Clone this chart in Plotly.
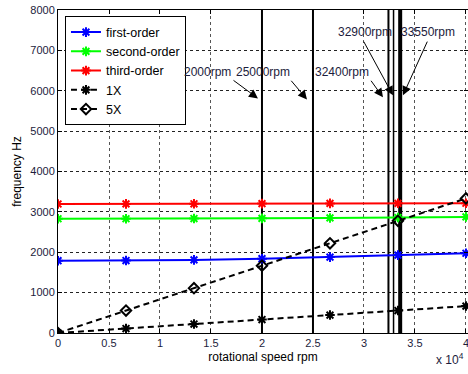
import plotly.graph_objects as go

# ---- data ----
rpm = [0, 6667, 13333, 20000, 26667, 33333, 40000]
first_order = [1790, 1795, 1810, 1840, 1880, 1930, 1975]
second_order = [2830, 2830, 2835, 2840, 2850, 2860, 2875]
third_order = [3195, 3198, 3200, 3205, 3210, 3212, 3215]
one_x = [0, 111, 222, 333, 444, 556, 667]
five_x = [0, 556, 1111, 1667, 2222, 2778, 3333]
critical_rpm = [20000, 25000, 32400, 32900, 33550]
critical_labels = ["2000rpm", "25000rpm", "32400rpm", "32900rpm", "33550rpm"]
x_tickvals = [0, 5000, 10000, 15000, 20000, 25000, 30000, 35000, 40000]
x_ticktext = ["0", "0.5", "1", "1.5", "2", "2.5", "3", "3.5", "4"]
y_tickvals = [0, 1000, 2000, 3000, 4000, 5000, 6000, 7000, 8000]

FONT = "Liberation Sans, Arial, sans-serif"
TXT = "#1c1c3c"

fig = go.Figure()

# vertical critical speed lines
line_widths = [2, 2, 2, 1.5, 4]
for r, w in zip(critical_rpm, line_widths):
    fig.add_trace(go.Scatter(x=[r, r], y=[0, 8000], mode="lines",
                             line=dict(color="black", width=w),
                             showlegend=False, hoverinfo="skip"))

series = [
    ("first-order", first_order, "#0000ff", "solid", "asterisk-open", 8),
    ("second-order", second_order, "#00ff00", "solid", "asterisk-open", 8),
    ("third-order", third_order, "#ff0000", "solid", "asterisk-open", 8),
    ("1X", one_x, "black", "dash", "asterisk-open", 8),
    ("5X", five_x, "black", "dash", "diamond-open", 8),
]
for name, vals, col, dash, sym, sz in series:
    fig.add_trace(go.Scatter(
        x=rpm, y=vals, name=name, mode="lines+markers",
        line=dict(color=col, width=2, dash="6px,4px" if dash == "dash" else "solid"),
        marker=dict(symbol=sym, size=sz, color=col,
                    line=dict(color=col, width=2)),
    ))

# annotation layout (pixel-estimated positions in data units)
text_pos = [(14700, 6460), (20100, 6460), (27850, 6460), (30100, 7450), (36280, 7450)]
arrow_tail = [(17060, 6284), (22745, 6284), (30590, 6284), (29900, 7254), (36275, 7254)]
arrow_tip = [(19608, 5811), (24412, 5786), (31863, 5836), (32843, 5886), (33824, 5886)]

for lab, (tx, ty) in zip(critical_labels, text_pos):
    fig.add_annotation(x=tx, y=ty, text=lab, showarrow=False,
                       font=dict(family=FONT, size=12, color=TXT))
for (ax, ay), (hx, hy) in zip(arrow_tail, arrow_tip):
    fig.add_annotation(x=hx, y=hy, ax=ax, ay=ay, axref="x", ayref="y",
                       text="", showarrow=True, arrowhead=2, arrowsize=1.8,
                       arrowwidth=1, arrowcolor="black")

fig.add_annotation(x=40000, y=-0.082, xref="x", yref="paper",
                   text="x 10<sup>4</sup>", showarrow=False,
                   xanchor="right", yanchor="middle",
                   font=dict(family=FONT, size=12, color=TXT))

fig.update_layout(
    width=468, height=374,
    margin=dict(l=58, r=0, t=10, b=41),
    paper_bgcolor="white", plot_bgcolor="white",
    font=dict(family=FONT, size=11, color=TXT),
    legend=dict(x=0.017, y=0.98, xanchor="left", yanchor="top",
                bgcolor="white", bordercolor="black", borderwidth=1,
                font=dict(family=FONT, size=12.5, color="black"),
                tracegroupgap=0, itemwidth=30),
    xaxis=dict(range=[0, 40200], tickvals=x_tickvals, ticktext=x_ticktext,
               automargin=False, ticklabeloverflow="allow",
               showgrid=True, gridcolor="#555555", griddash="3px,3px", gridwidth=1,
               showline=True, linecolor="black", linewidth=1, mirror="ticks",
               ticks="inside", ticklen=4, tickcolor="black",
               zeroline=False,
               title=dict(text="rotational speed rpm", standoff=4,
                          font=dict(family=FONT, size=12, color="black"))),
    yaxis=dict(range=[0, 8000], tickvals=y_tickvals,
               automargin=False, ticklabeloverflow="allow",
               showgrid=True, gridcolor="#222222", griddash="3px,3px", gridwidth=1,
               showline=True, linecolor="black", linewidth=1, mirror="ticks",
               ticks="inside", ticklen=4, tickcolor="black",
               zeroline=False,
               title=dict(text="frequency Hz", standoff=6,
                          font=dict(family=FONT, size=12, color="black"))),
)

fig.write_html("out.html", config={"displayModeBar": False},
               post_script="document.body.style.margin='0';document.body.style.padding='0';")
